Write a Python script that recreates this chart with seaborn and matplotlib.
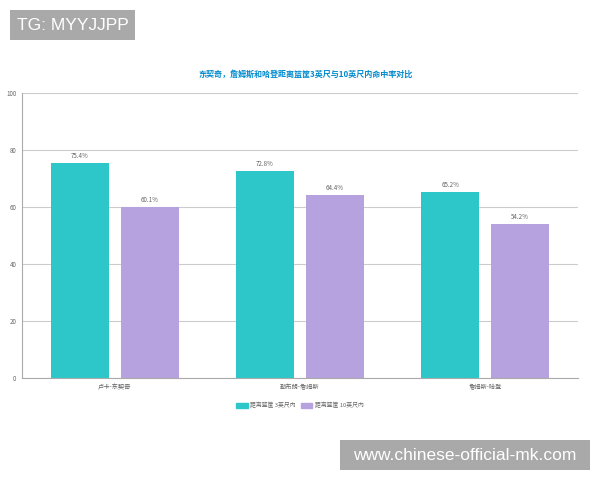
import pandas as pd
import seaborn as sns
import matplotlib.pyplot as plt
from matplotlib.patches import Rectangle

# data
players = ['卢卡-东契奇', '勒布朗-詹姆斯', '詹姆斯-哈登']
series = ['距离篮筐 3英尺内', '距离篮筐 10英尺内']
within_3ft = [75.4, 72.8, 65.2]
within_10ft = [60.1, 64.4, 54.2]
title = '东契奇，詹姆斯和哈登距离篮筐3英尺与10英尺内命中率对比'

df = pd.DataFrame({
    'player': players * 2,
    'range': [series[0]] * 3 + [series[1]] * 3,
    'pct': within_3ft + within_10ft,
})

sns.set_theme(style='white')
plt.rcParams['font.family'] = ['Noto Sans CJK SC', 'DejaVu Sans']

fig = plt.figure(figsize=(6, 4.8), dpi=100)
ax = fig.add_axes([0.0367, 0.2125, 0.9266, 0.5935])

colors = ['#2ec7c9', '#b6a2de']
sns.barplot(data=df, x='player', y='pct', hue='range', palette=colors,
            width=0.755, gap=0.17, ax=ax, legend=False, saturation=1,
            edgecolor='none')

for cont in ax.containers:
    ax.bar_label(cont, labels=[f'{v:.1f}%' for v in cont.datavalues],
                 fontsize=4.5, color='#666666', padding=2)

ax.set_ylim(0, 100)
ax.set_yticks([0, 20, 40, 60, 80, 100])
ax.set_xlabel('')
ax.set_ylabel('')
ax.grid(axis='y', color='#cccccc', linewidth=0.8)
ax.set_axisbelow(True)
for s in ['top', 'right']:
    ax.spines[s].set_visible(False)
ax.spines['left'].set_color('#aaaaaa')
ax.spines['bottom'].set_color('#aaaaaa')
ax.spines['left'].set_linewidth(0.8)
ax.spines['bottom'].set_linewidth(0.8)
ax.tick_params(axis='both', labelsize=4.5, colors='#666666', length=2,
               width=0.6, pad=2)
ax.tick_params(axis='x', colors='#aaaaaa', labelcolor='#666666')

fig.text(0.51, 0.846, title, ha='center', va='center', fontsize=5.8,
         color='#008acd', fontweight='bold')

# legend
handles = [Rectangle((0, 0), 1, 1, color=c) for c in colors]
fig.legend(handles, series, loc='center', bbox_to_anchor=(0.5, 0.156),
           ncol=2, frameon=False, fontsize=4.2, handlelength=2.0,
           handleheight=1.0, columnspacing=0.8, handletextpad=0.4,
           labelcolor='#666666')

# watermarks
fig.patches.append(Rectangle((10 / 600, 1 - 40 / 480), 125 / 600, 30 / 480,
                             transform=fig.transFigure, facecolor='#a9a9a9',
                             edgecolor='none'))
fig.text(72.5 / 600, 1 - 25 / 480, 'TG: MYYJJPP', fontsize=12.5,
         color='white', va='center', ha='center', family='Liberation Sans')
fig.patches.append(Rectangle((340 / 600, 1 - 470 / 480), 250 / 600, 30 / 480,
                             transform=fig.transFigure, facecolor='#a9a9a9',
                             edgecolor='none'))
fig.text(465 / 600, 1 - 455 / 480, 'www.chinese-official-mk.com',
         fontsize=12.5, color='white', va='center', ha='center',
         family='Liberation Sans')

fig.savefig('out.png', dpi=100)
